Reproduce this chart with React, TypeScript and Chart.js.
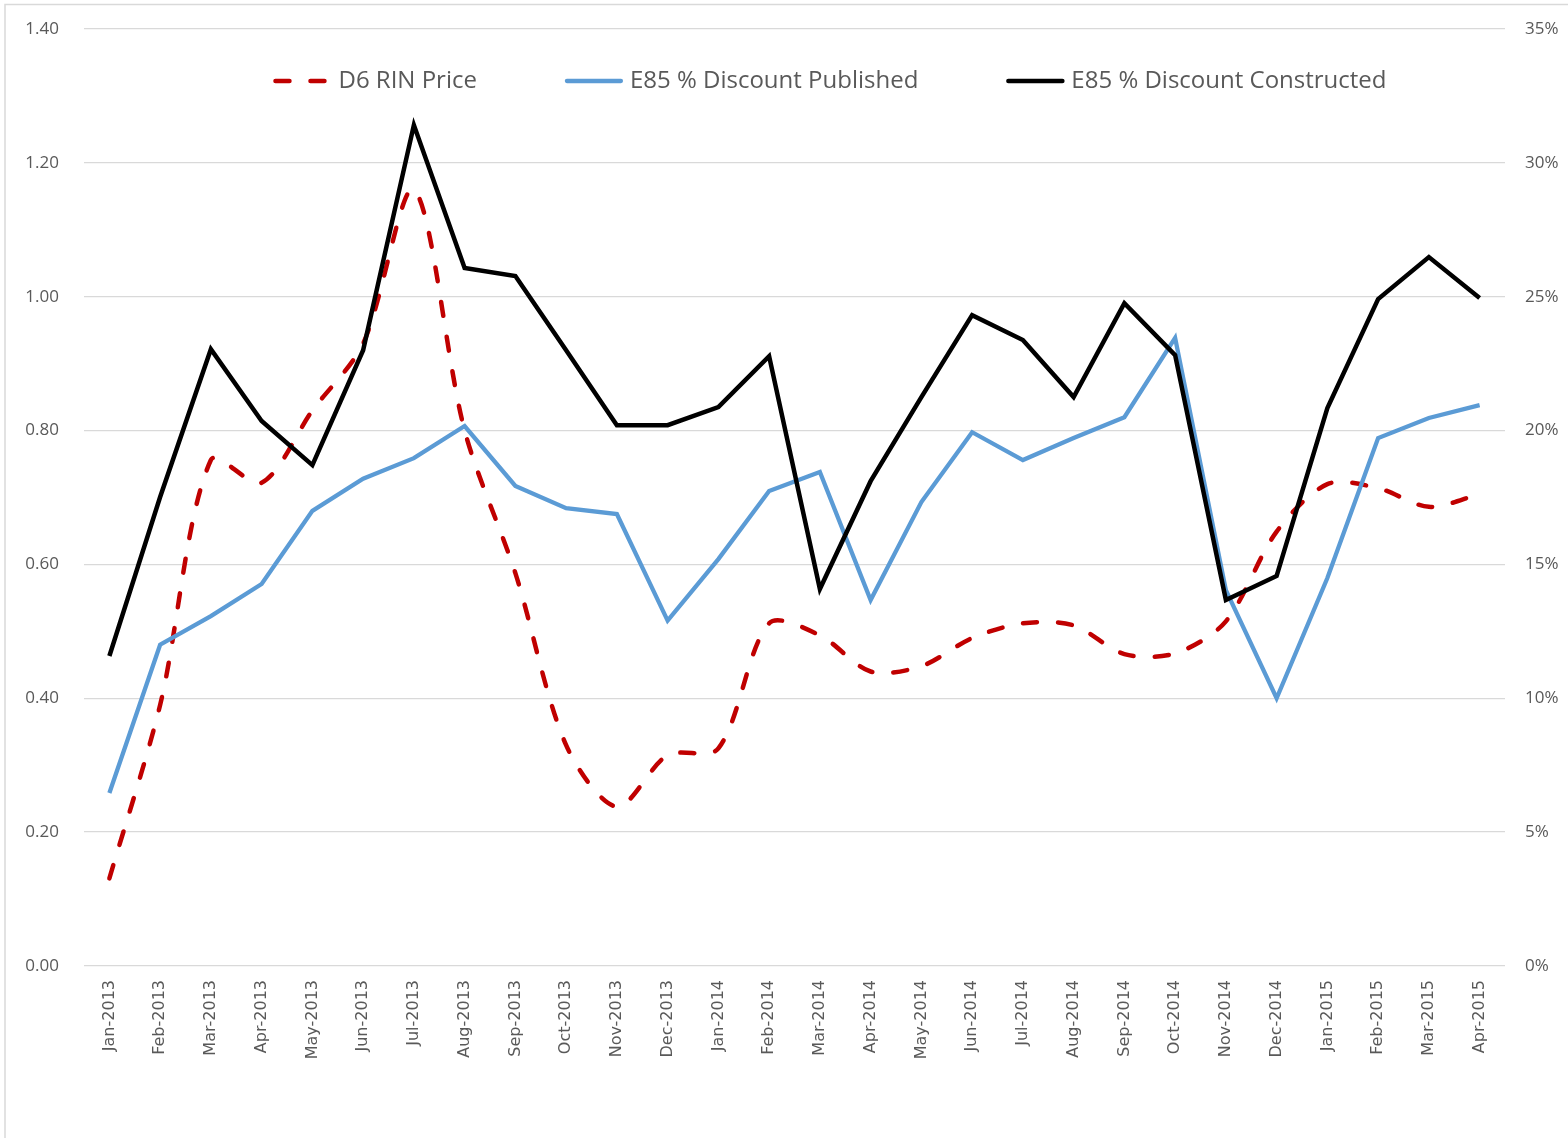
import React, { useEffect, useRef } from "react";
import { Chart, registerables } from "chart.js";

Chart.register(...registerables);

const months = [
  "Jan-2013", "Feb-2013", "Mar-2013", "Apr-2013", "May-2013", "Jun-2013",
  "Jul-2013", "Aug-2013", "Sep-2013", "Oct-2013", "Nov-2013", "Dec-2013",
  "Jan-2014", "Feb-2014", "Mar-2014", "Apr-2014", "May-2014", "Jun-2014",
  "Jul-2014", "Aug-2014", "Sep-2014", "Oct-2014", "Nov-2014", "Dec-2014",
  "Jan-2015", "Feb-2015", "Mar-2015", "Apr-2015",
];

// D6 RIN price ($, left axis)
const d6RinPrice = [
  0.131, 0.39, 0.756, 0.722, 0.83, 0.93, 1.16, 0.8, 0.587, 0.33, 0.238, 0.315,
  0.325, 0.512, 0.494, 0.44, 0.448, 0.49, 0.512, 0.509, 0.466, 0.467, 0.515, 0.649,
  0.72, 0.714, 0.686, 0.705,
];

// E85 % discount published (%, right axis)
const e85Published = [
  6.46, 12.0, 13.07, 14.27, 17.0, 18.2, 18.97, 20.17, 17.93, 17.1, 16.88, 12.9,
  15.2, 17.74, 18.45, 13.67, 17.33, 19.94, 18.9, 19.72, 20.5, 23.46, 14.04, 10.0,
  14.49, 19.72, 20.47, 20.95,
];

// E85 % discount constructed (%, right axis)
const e85Constructed = [
  11.58, 17.52, 23.04, 20.36, 18.71, 23.0, 31.41, 26.07, 25.77, 23.0, 20.2, 20.2,
  20.88, 22.78, 14.08, 18.11, 21.25, 24.31, 23.38, 21.25, 24.76, 22.82, 13.67, 14.57,
  20.84, 24.91, 26.48, 24.95,
];

const seriesLabels = ["D6 RIN Price", "E85 % Discount Published", "E85 % Discount Constructed"];

const TEXT = "#595959";
const GRID = "#d9d9d9";

const framePlugin = {
  id: "frame",
  beforeDraw(chart: any) {
    const { ctx, width, height } = chart;
    ctx.save();
    ctx.fillStyle = "#ffffff";
    ctx.fillRect(0, 0, width, height);
    ctx.strokeStyle = GRID;
    ctx.lineWidth = 1.5;
    ctx.strokeRect(5, 4.5, width + 20, height + 20);
    ctx.restore();
  },
};

const legendPlugin = {
  id: "customLegend",
  afterDraw(chart: any, _args: any, opts: any) {
    const ctx = chart.ctx;
    ctx.save();
    ctx.font = opts.font;
    const items = chart.data.datasets.map((ds: any) => ({
      label: ds.label,
      color: ds.borderColor,
      dash: ds.borderDash || [],
      width: ds.borderWidth,
    }));
    const widths = items.map(
      (it: any) => opts.sampleWidth + opts.textGap + ctx.measureText(it.label).width
    );
    const total =
      widths.reduce((a: number, b: number) => a + b, 0) + opts.itemGap * (items.length - 1);
    let x = opts.centerX - total / 2;
    const y = opts.y;
    items.forEach((it: any, i: number) => {
      ctx.beginPath();
      ctx.strokeStyle = it.color;
      ctx.lineWidth = it.width;
      ctx.lineCap = "round";
      ctx.setLineDash(it.dash);
      ctx.moveTo(x + 2, y);
      ctx.lineTo(x + opts.sampleWidth - 2, y);
      ctx.stroke();
      ctx.setLineDash([]);
      ctx.fillStyle = TEXT;
      ctx.textBaseline = "middle";
      ctx.textAlign = "left";
      ctx.fillText(it.label, x + opts.sampleWidth + opts.textGap, y);
      x += widths[i] + opts.itemGap;
    });
    ctx.restore();
  },
};

export default function App() {
  const canvasRef = useRef<HTMLCanvasElement | null>(null);

  useEffect(() => {
    const canvas = canvasRef.current;
    if (!canvas) return;
    const chart = new Chart(canvas, {
      type: "line",
      data: {
        labels: months,
        datasets: [
          {
            label: seriesLabels[0],
            data: d6RinPrice,
            yAxisID: "y",
            borderColor: "#c00000",
            backgroundColor: "#c00000",
            borderWidth: 4.5,
            borderDash: [14, 21],
            borderCapStyle: "round",
            tension: 0.3,
            pointRadius: 0,
            fill: false,
            order: 3,
          },
          {
            label: seriesLabels[1],
            data: e85Published,
            yAxisID: "y1",
            borderColor: "#5b9bd5",
            backgroundColor: "#5b9bd5",
            borderWidth: 4.3,
            tension: 0,
            pointRadius: 0,
            fill: false,
            order: 2,
          },
          {
            label: seriesLabels[2],
            data: e85Constructed,
            yAxisID: "y1",
            borderColor: "#000000",
            backgroundColor: "#000000",
            borderWidth: 4.5,
            tension: 0,
            pointRadius: 0,
            fill: false,
            order: 1,
          },
        ],
      },
      options: {
        responsive: false,
        animation: false,
        devicePixelRatio: 1,
        layout: { padding: { top: 29, left: 0, right: 0, bottom: 0 } },
        plugins: {
          legend: { display: false },
          tooltip: { enabled: false },
          customLegend: {
            font: "24px 'Open Sans'",
            sampleWidth: 58,
            textGap: 7,
            itemGap: 88,
            centerX: 830,
            y: 81,
          },
        } as any,
        scales: {
          x: {
            offset: true,
            grid: { display: false, drawTicks: false },
            border: { display: false },
            ticks: {
              autoSkip: false,
              maxRotation: 90,
              minRotation: 90,
              padding: 14,
              color: TEXT,
              font: { family: "DejaVu Sans", size: 16 },
            },
            afterFit: (s: any) => {
              s.height = 172;
            },
          },
          y: {
            position: "left",
            min: 0,
            max: 1.4,
            grid: {
              color: GRID,
              lineWidth: 1.3,
              drawTicks: true,
              tickLength: 22,
              tickColor: "rgba(0,0,0,0)",
            },
            border: { display: false },
            ticks: {
              stepSize: 0.2,
              padding: 3,
              color: TEXT,
              font: { family: "Open Sans", size: 17 },
              callback: (v: any) => Number(v).toFixed(2),
            },
            afterFit: (s: any) => {
              s.width = 84;
            },
          },
          y1: {
            position: "right",
            min: 0,
            max: 35,
            grid: {
              display: true,
              drawOnChartArea: false,
              drawTicks: true,
              tickLength: 17,
              tickColor: "rgba(0,0,0,0)",
              color: "rgba(0,0,0,0)",
            },
            border: { display: false },
            ticks: {
              stepSize: 5,
              padding: 3,
              color: TEXT,
              font: { family: "Open Sans", size: 17 },
              callback: (v: any) => Math.round(Number(v)) + "%",
            },
            afterFit: (s: any) => {
              s.width = 63;
            },
          },
        },
      },
      plugins: [framePlugin, legendPlugin],
    });
    return () => chart.destroy();
  }, []);

  return (
    <div style={{ position: "fixed", left: 0, top: 0, width: 1568, height: 1138, background: "#fff" }}>
      <canvas ref={canvasRef} width={1568} height={1138} style={{ display: "block" }} />
    </div>
  );
}
